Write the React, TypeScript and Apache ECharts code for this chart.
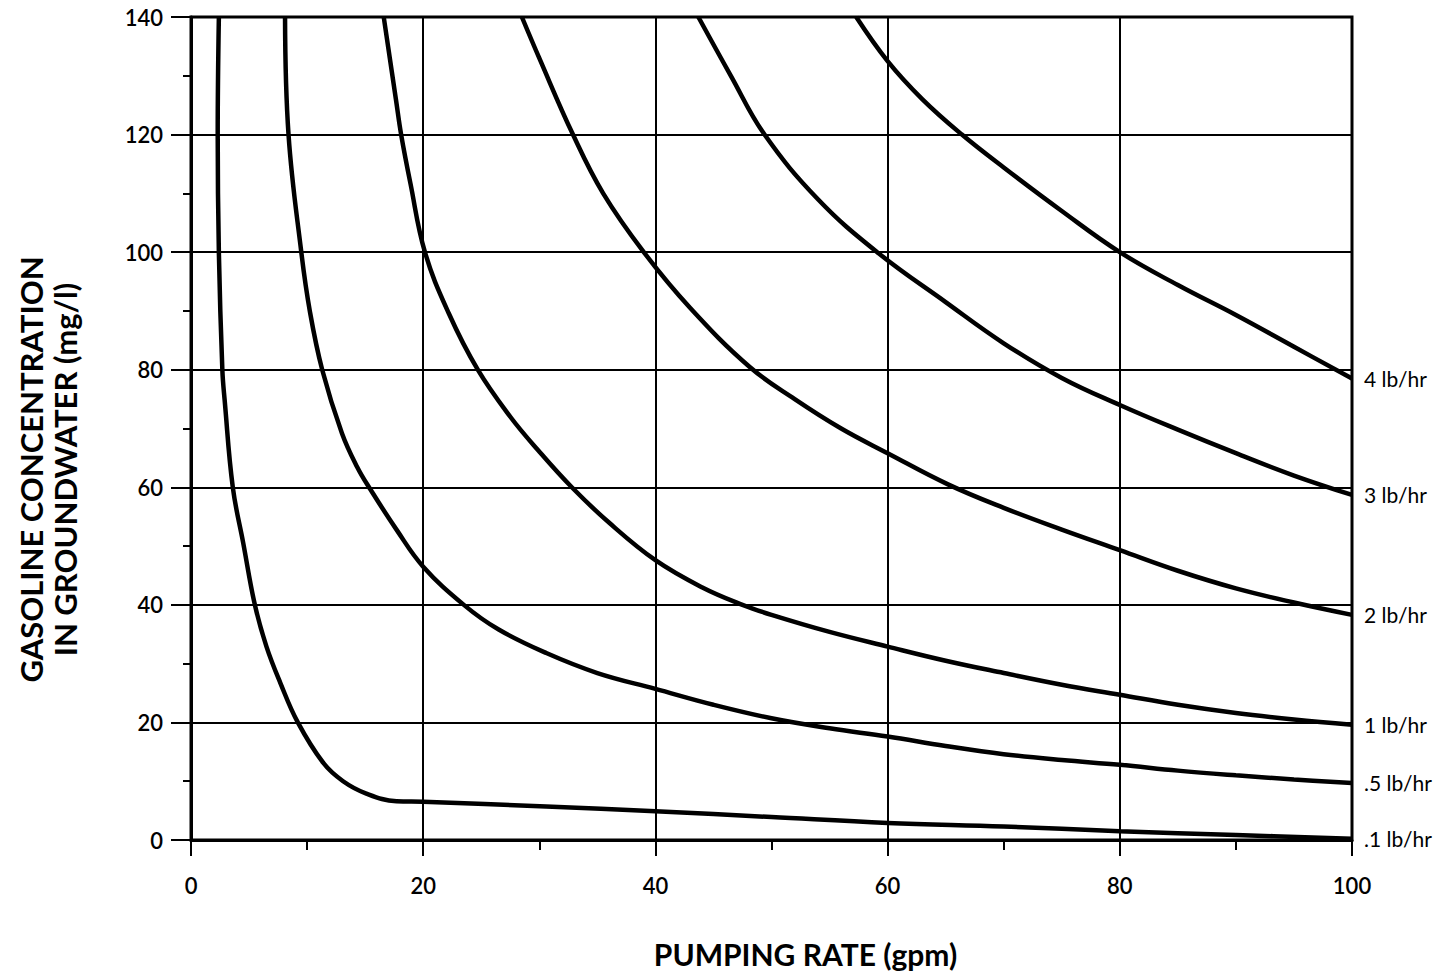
import React, { useEffect, useRef } from "react";
import * as echarts from "echarts";

const xTicks = [0, 20, 40, 60, 80, 100];
const yTicks = [0, 20, 40, 60, 80, 100, 120, 140];

const seriesNames = ["4 lb/hr", "3 lb/hr", "2 lb/hr", "1 lb/hr", ".5 lb/hr", ".1 lb/hr"];

const rate4 = [57.3, 60, 63, 66.4, 70, 75, 80, 85, 90, 95, 100];
const conc4 = [140, 132.5, 126, 120, 114.4, 107, 100, 94.4, 89.3, 83.9, 78.5];

const rate3 = [43.7, 46.5, 49.4, 54, 59.1, 65, 70, 75, 80, 85, 90, 95, 100];
const conc3 = [140, 130, 120, 109, 100, 91.5, 84.5, 78.6, 74, 69.8, 65.8, 62, 58.7];

const rate2 = [28.5, 30, 32.9, 35.5, 39, 43, 48.1, 52, 56, 60, 65.2, 70, 75, 80, 85, 90, 95, 100];
const conc2 = [140, 133, 120, 110, 100, 90.5, 80.5, 75, 70, 65.8, 60.5, 56.5, 52.8, 49.3, 45.8, 42.8, 40.4, 38.3];

const rate1 = [16.6, 17.65, 18.1, 18.9, 20.15, 22.2, 24.7, 27.5, 29.9, 32.8, 36, 40, 44, 47.5, 50, 55, 60, 65, 70, 75, 80, 85, 90, 95, 100];
const conc1 = [140, 126, 120, 111.7, 100, 89.6, 80, 72, 66.3, 60, 54, 47.6, 43, 40, 38.3, 35.4, 32.9, 30.5, 28.4, 26.4, 24.7, 23, 21.6, 20.5, 19.6];

const rate05 = [8.1, 8.4, 9.5, 10.25, 11.3, 13.0, 14.3, 15.4, 17.7, 20, 23.5, 26.5, 30.6, 35, 40, 45, 50, 55, 60, 65, 70, 75, 80, 85, 90, 95, 100];
const conc05 = [140, 120, 100, 89.8, 80, 69.2, 63.5, 59.8, 52.8, 46.5, 40, 35.8, 31.8, 28.4, 25.7, 23, 20.7, 19, 17.6, 16, 14.6, 13.6, 12.8, 11.8, 11, 10.3, 9.7];

const rate01 = [2.4, 2.3, 2.4, 2.7, 2.9, 3.6, 4.5, 5.5, 6.5, 7.7, 9.2, 11.4, 13.1, 15.1, 17.7, 20, 30.6, 40, 50, 60, 70, 80, 90, 100];
const conc01 = [140, 120, 100, 80, 74.8, 60, 50.5, 40, 32.9, 26.7, 20, 13.1, 10, 7.9, 6.6, 6.5, 5.7, 4.9, 3.9, 2.9, 2.3, 1.5, 0.85, 0.2];

const rates = [rate4, rate3, rate2, rate1, rate05, rate01];
const concs = [conc4, conc3, conc2, conc1, conc05, conc01];

const FONT = "Lato, 'Open Sans', sans-serif";

export default function App() {
  const ref = useRef<HTMLDivElement>(null);

  useEffect(() => {
    if (!ref.current) return;
    const chart = echarts.init(ref.current, undefined, { renderer: "svg" });
    const series = seriesNames.map((name, i) => ({
      name,
      type: "line",
      data: rates[i].map((x, j) => [x, concs[i][j]]),
      smooth: 0.4,
      showSymbol: false,
      symbol: "none",
      clip: true,
      lineStyle: { color: "#000", width: 4.5 },
      endLabel: {
        show: true,
        formatter: "{a}",
        color: "#000",
        fontFamily: FONT,
        fontSize: 21,
        distance: 12,
      },
      z: 5,
    }));

    chart.setOption({
      animation: false,
      backgroundColor: "#fff",
      textStyle: { fontFamily: FONT },
      grid: {
        left: 191,
        right: 97,
        top: 17,
        bottom: 139,
        show: true,
        borderColor: "#000",
        borderWidth: 3,
        backgroundColor: "transparent",
        containLabel: false,
      },
      xAxis: {
        type: "value",
        min: xTicks[0],
        max: xTicks[xTicks.length - 1],
        interval: 20,
        name: "PUMPING RATE (gpm)",
        nameLocation: "middle",
        nameGap: 99,
        nameTextStyle: {
          fontFamily: FONT,
          fontSize: 30,
          fontWeight: "bold",
          color: "#000",
          padding: [0, 0, 0, 68],
        },
        axisLine: { show: true, lineStyle: { color: "#000", width: 3 } },
        axisTick: { show: true, inside: false, length: 16, lineStyle: { color: "#000", width: 2 } },
        minorTick: { show: true, splitNumber: 2, length: 10, lineStyle: { color: "#000", width: 2 } },
        axisLabel: { color: "#000", fontSize: 22, fontWeight: 600, margin: 34, fontFamily: FONT },
        splitLine: { show: true, lineStyle: { color: "#000", width: 2 } },
      },
      yAxis: {
        type: "value",
        min: yTicks[0],
        max: yTicks[yTicks.length - 1],
        interval: 20,
        name: "GASOLINE CONCENTRATION\nIN GROUNDWATER (mg/l)",
        nameLocation: "middle",
        nameGap: 109,
        nameRotate: 90,
        nameTextStyle: {
          fontFamily: FONT,
          fontSize: 31,
          fontWeight: "bold",
          color: "#000",
          lineHeight: 34,
          padding: [0, 82, 0, 0],
        },
        axisLine: { show: true, lineStyle: { color: "#000", width: 3 } },
        axisTick: { show: true, inside: false, length: 20, lineStyle: { color: "#000", width: 2 } },
        minorTick: { show: true, splitNumber: 2, length: 8, lineStyle: { color: "#000", width: 2 } },
        axisLabel: { color: "#000", fontSize: 22, fontWeight: 600, margin: 28, fontFamily: FONT },
        splitLine: { show: true, lineStyle: { color: "#000", width: 2 } },
      },
      series,
    });
    return () => chart.dispose();
  }, []);

  return (
    <div
      ref={ref}
      style={{ position: "fixed", left: 0, top: 0, width: 1449, height: 979, background: "#fff" }}
    />
  );
}
